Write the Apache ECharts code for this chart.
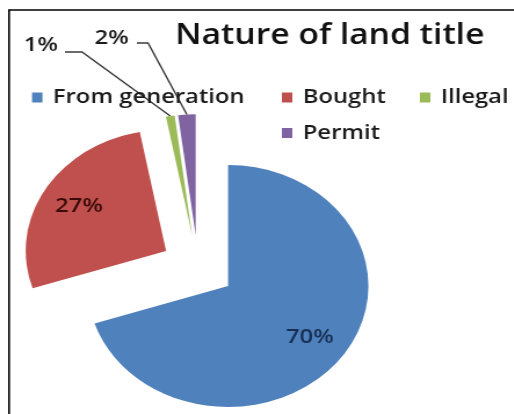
<!DOCTYPE html>
<html>
<head>
<meta charset="utf-8">
<script src="https://cdn.jsdelivr.net/npm/echarts@6/dist/echarts.min.js"></script>
<style>
  html, body { margin: 0; padding: 0; background: #fff; overflow: hidden; }
  /* the chart is laid out narrower and widened horizontally, so the pie reads as an ellipse */
  #chart { position: absolute; left: 0; top: 0; width: 443.1px; height: 414px;
           transform: scaleX(1.16); transform-origin: 0 0; }
</style>
</head>
<body>
<div id="chart"></div>
<script>
// ---- data ----
const categories = ['From generation', 'Bought', 'Illegal', 'Permit'];
const shares = [70, 27, 1, 2];
const titleText = 'Nature of land title';

// ---- look ----
const sliceColors = ['#4F81BD', '#C0504D', '#9BBB59', '#8064A2'];
const labelColors = ['#172f52', '#380b09', '#1a1a1a', '#1a1a1a'];
const fontFamily = "'Open Sans', 'Noto Sans', sans-serif";
const textWeight = 600;

// pie geometry (px, in the unstretched layout)
const PIE = { cx: 170.7, cy: 267.2, r: 121, explode: 32, labelRadius: 0.72 };
// callout placement for the two thin slices: right edge of text, text middle,
// leader offset below the middle, length of the flat run, gap to the text
const callouts = {
  2: { x: 50,  y: 45.5, lineDy: 6.5, run: 14.7, gap: 6 },
  3: { x: 111, y: 38.5, lineDy: 4.5, run: 9.6,  gap: 7 }
};

const total = shares.reduce((a, b) => a + b, 0);

// unit vector pointing through the middle of slice i (clockwise from 12 o'clock)
function midDir(i) {
  let cum = 0;
  for (let k = 0; k < i; k++) cum += shares[k];
  const th = (cum + shares[i] / 2) / total * 2 * Math.PI;
  return [Math.sin(th), -Math.cos(th)];
}

// every slice is pulled out along its own middle direction: one pie series per slice,
// each holding the full data so the angles stay shared
const series = categories.map((name, i) => {
  const d = midDir(i);
  const cx = PIE.cx + d[0] * PIE.explode;
  const cy = PIE.cy + d[1] * PIE.explode;
  const callout = callouts[i];
  return {
    type: 'pie',
    silent: true,
    animation: false,
    startAngle: 90,
    clockwise: true,
    center: [cx, cy],
    radius: PIE.r,
    avoidLabelOverlap: false,
    itemStyle: { borderWidth: 0 },
    data: categories.map((n, j) => ({
      name: n,
      value: shares[j],
      itemStyle: { color: j === i ? sliceColors[j] : 'rgba(0,0,0,0)' },
      label: { show: j === i },
      labelLine: { show: j === i && !!callout }
    })),
    label: {
      position: callout ? 'outside' : 'inside',
      formatter: '{d}%',
      fontFamily: fontFamily,
      fontSize: 20.5,
      fontWeight: textWeight,
      color: labelColors[i]
    },
    labelLine: { length: 10, length2: 10, lineStyle: { color: '#3a3a3a', width: 1.4 } },
    labelLayout: function (p) {
      if (p.dataIndex !== i) return;
      if (!callout) {
        return {
          x: cx + d[0] * PIE.r * PIE.labelRadius,
          y: cy + d[1] * PIE.r * PIE.labelRadius,
          align: 'center',
          verticalAlign: 'middle'
        };
      }
      const anchor = (p.labelLinePoints && p.labelLinePoints[0]) || [cx + d[0] * PIE.r, cy + d[1] * PIE.r];
      const ly = callout.y + callout.lineDy;
      return {
        x: callout.x,
        y: callout.y,
        align: 'right',
        verticalAlign: 'middle',
        labelLinePoints: [anchor, [callout.x + callout.gap + callout.run, ly], [callout.x + callout.gap, ly]]
      };
    }
  };
});

const legendText = { fontFamily: fontFamily, fontSize: 20.5, fontWeight: textWeight, color: '#1a1a1a', padding: [0, 0, 0, 4] };
function legendData(names) {
  return names.map(n => ({ name: n, itemStyle: { color: sliceColors[categories.indexOf(n)] } }));
}
const legendBase = {
  padding: 0, icon: 'rect', itemWidth: 9, itemHeight: 10,
  selectedMode: false, textStyle: legendText
};

const chart = echarts.init(document.getElementById('chart'), null, { renderer: 'canvas' });
chart.setOption({
  backgroundColor: '#ffffff',
  animation: false,
  title: {
    text: titleText,
    left: 151,
    top: 21,
    padding: 0,
    textStyle: { fontFamily: fontFamily, fontSize: 29, fontWeight: textWeight, color: '#111111' }
  },
  legend: [
    Object.assign({}, legendBase, { left: 27.6, top: 87, data: legendData(['From generation']) }),
    Object.assign({}, legendBase, { left: 243, top: 87, orient: 'vertical', itemGap: 14.5, data: legendData(['Bought', 'Permit']) }),
    Object.assign({}, legendBase, { left: 362, top: 87, data: legendData(['Illegal']) })
  ],
  graphic: [{
    type: 'polyline',
    silent: true,
    shape: { points: [[7.8, 430], [7.8, 10], [460, 10]] },
    style: { stroke: '#000000', lineWidth: 1.6, fill: null }
  }],
  series: series
});
</script>
</body>
</html>
